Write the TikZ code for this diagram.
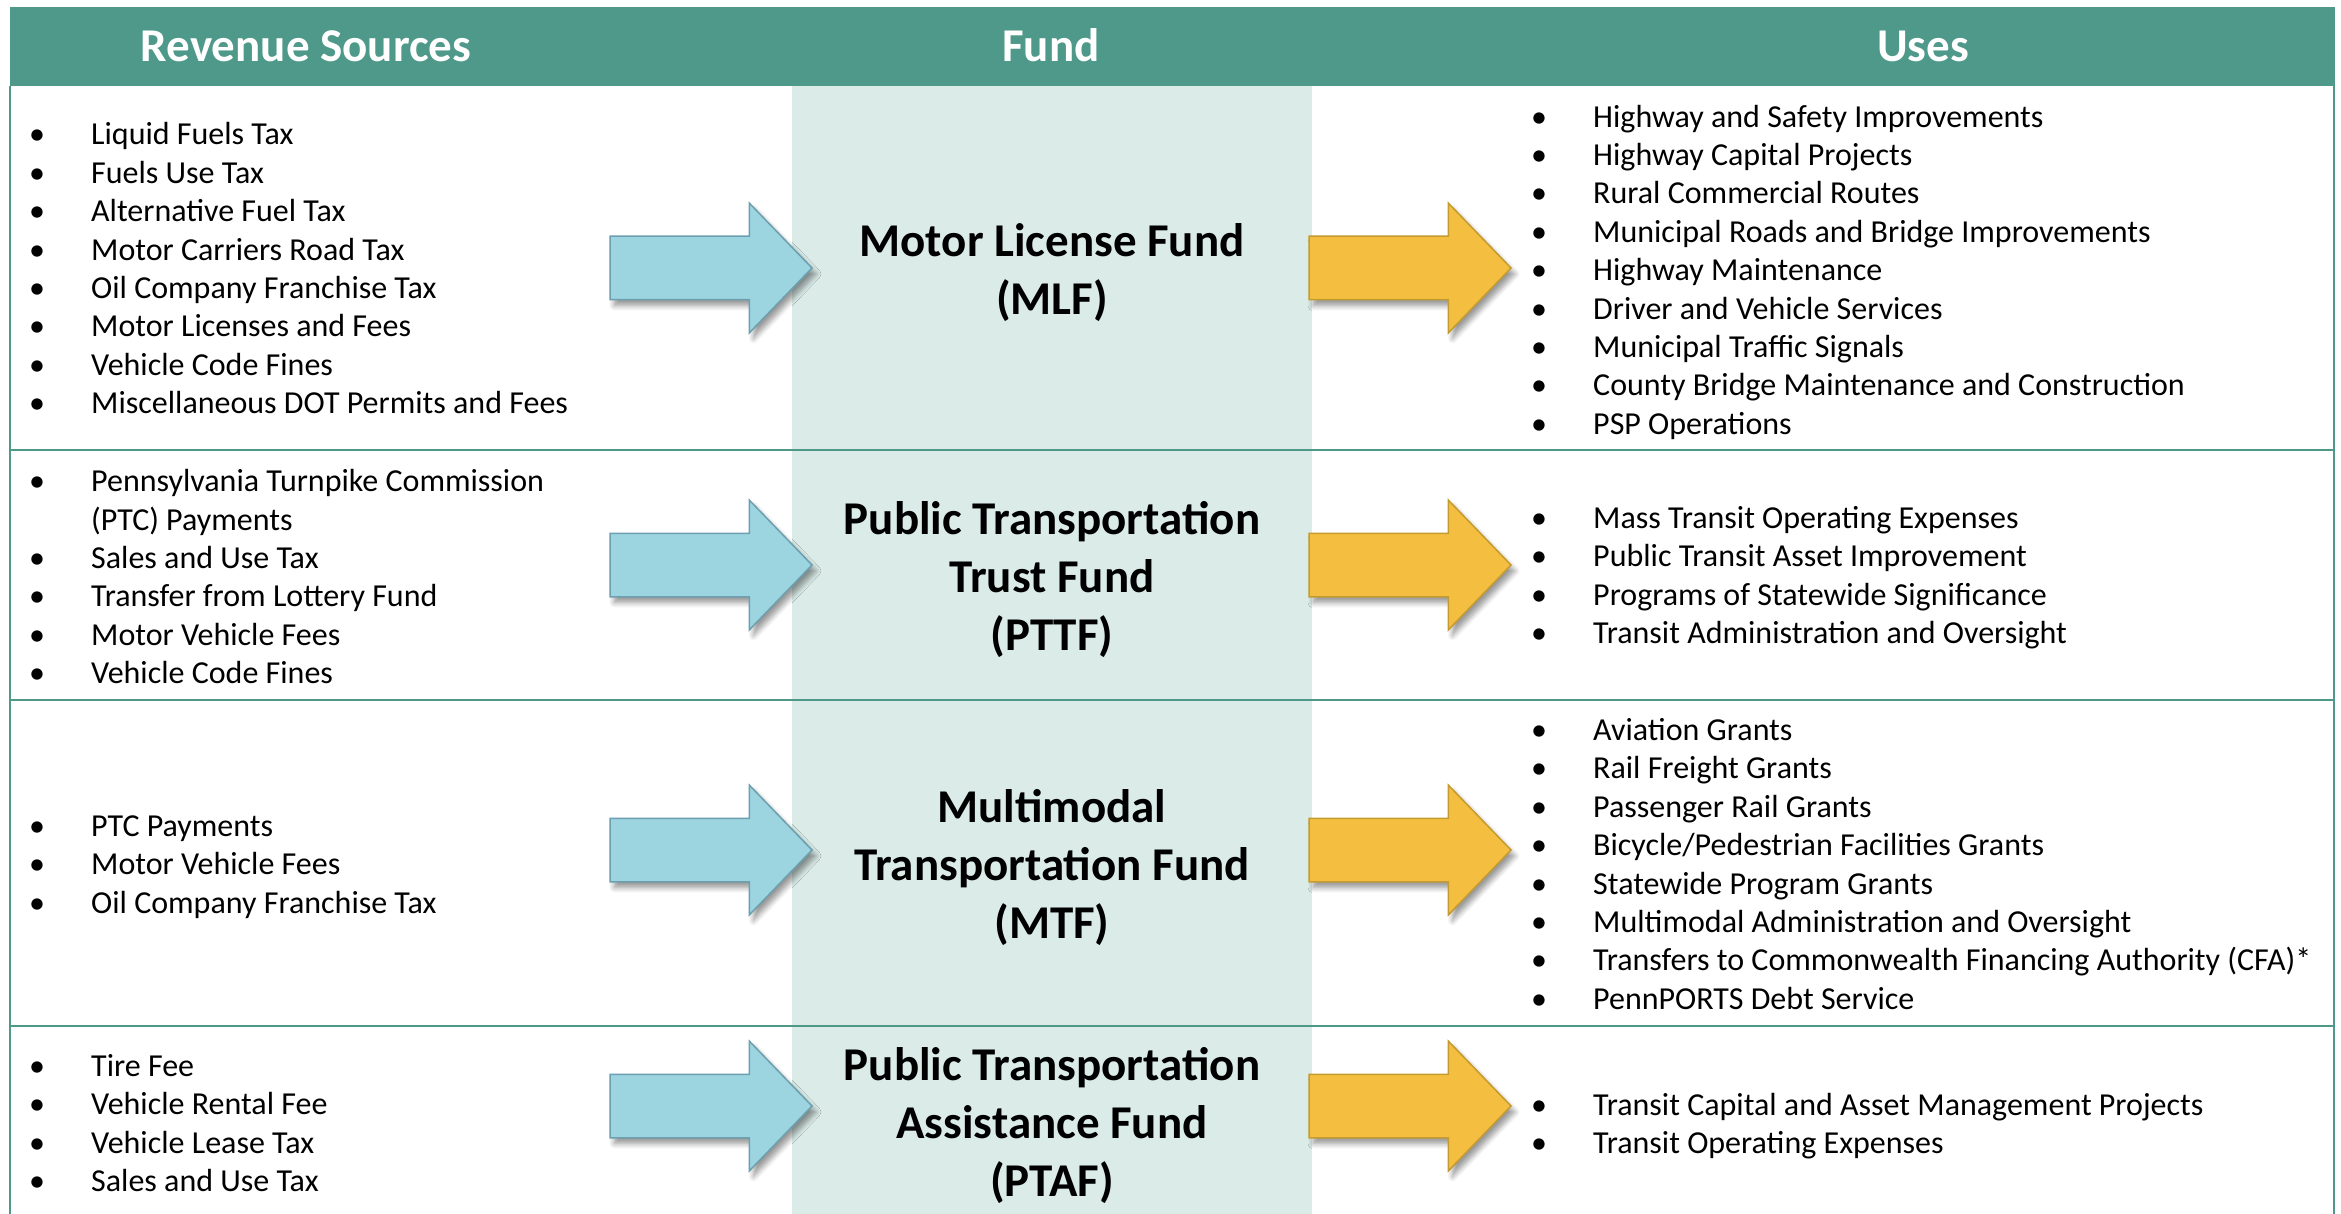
\documentclass[tikz,border=0pt]{standalone}
\usepackage{fontspec}
\setmainfont{Carlito}
\usetikzlibrary{shapes.arrows,shadows,shadows.blur}
\definecolor{hdr}{HTML}{4E998A}
\definecolor{fundbg}{HTML}{DAEBE8}
\definecolor{blfill}{HTML}{9CD4DF}
\definecolor{bldraw}{HTML}{6C9FAF}
\definecolor{orfill}{HTML}{F4BF41}
\definecolor{ordraw}{HTML}{C49B2E}
\tikzset{
  rule/.style={draw=hdr, line width=2.5pt},
  hdrtext/.style={text=white, font=\bfseries\fontsize{47}{56}\selectfont, inner sep=0pt, anchor=base},
  fundtext/.style={font=\bfseries\fontsize{47}{58}\selectfont, align=center, inner sep=0pt},
  listtext/.style={font=\fontsize{32}{38.4}\selectfont, inner sep=0pt, anchor=west},
  blockarrow/.style={single arrow, anchor=tail, minimum height=202pt, minimum width=128pt,
    single arrow head extend=33pt, single arrow tip angle=92, inner xsep=0pt, inner ysep=31pt,
    outer sep=0pt, line width=1.5pt,
    blur shadow={shadow xshift=4pt, shadow yshift=-6pt, shadow blur radius=5pt,
      shadow blur steps=6, shadow opacity=40}},
  inarrow/.style={blockarrow, fill=blfill, draw=bldraw},
  outarrow/.style={blockarrow, fill=orfill, draw=ordraw},
}
\newcommand{\bl}{\textbullet &}
\newenvironment{blist}{\begin{tabular}{@{}p{62pt}@{}l@{}}}{\end{tabular}}
\begin{document}
\begin{tikzpicture}[x=1pt,y=-1pt]
\useasboundingbox (0,0) rectangle (2341,1214);
% fund column and header band
\fill[fundbg] (792,86) rectangle (1312,1214);
\fill[hdr] (10,7) rectangle (2335,86);
% table rules
\draw[rule] (10,86) -- (10,1214);
\draw[rule] (2334,86) -- (2334,1214);
\draw[rule] (10,450) -- (2334,450);
\draw[rule] (10,700) -- (2334,700);
\draw[rule] (10,1026) -- (2334,1026);
% header texts
\node[hdrtext] (hsrc) at (306,62) {Revenue Sources};
\node[hdrtext] (hfund) at (1051,62) {Fund};
\node[hdrtext] (huse) at (1923,62) {Uses};
% fund names
\node[fundtext] (mlf) at (1052,272.2) {Motor License Fund\\(MLF)};
\node[fundtext] (pttf) at (1052,579.2) {Public Transportation\\Trust Fund\\(PTTF)};
\node[fundtext] (mtf) at (1052,867.2) {Multimodal\\Transportation Fund\\(MTF)};
\node[fundtext] (ptaf) at (1052,1126) {Public Transportation\\Assistance Fund\\(PTAF)};
% revenue sources
\node[listtext] (src1) at (29,271.7) {\begin{blist}
\bl Liquid Fuels Tax\\
\bl Fuels Use Tax\\
\bl Alternative Fuel Tax\\
\bl Motor Carriers Road Tax\\
\bl Oil Company Franchise Tax\\
\bl Motor Licenses and Fees\\
\bl Vehicle Code Fines\\
\bl Miscellaneous DOT Permits and Fees
\end{blist}};
\node[listtext] (src2) at (29,580) {\begin{blist}
\bl Pennsylvania Turnpike Commission\\
 & (PTC) Payments\\
\bl Sales and Use Tax\\
\bl Transfer from Lottery Fund\\
\bl Motor Vehicle Fees\\
\bl Vehicle Code Fines
\end{blist}};
\node[listtext] (src3) at (29,867.3) {\begin{blist}
\bl PTC Payments\\
\bl Motor Vehicle Fees\\
\bl Oil Company Franchise Tax
\end{blist}};
\node[listtext] (src4) at (29,1126.5) {\begin{blist}
\bl Tire Fee\\
\bl Vehicle Rental Fee\\
\bl Vehicle Lease Tax\\
\bl Sales and Use Tax
\end{blist}};
% uses
\node[listtext] (use1) at (1531,273) {\begin{blist}
\bl Highway and Safety Improvements\\
\bl Highway Capital Projects\\
\bl Rural Commercial Routes\\
\bl Municipal Roads and Bridge Improvements\\
\bl Highway Maintenance\\
\bl Driver and Vehicle Services\\
\bl Municipal Traffic Signals\\
\bl County Bridge Maintenance and Construction\\
\bl PSP Operations
\end{blist}};
\node[listtext] (use2) at (1531,578.5) {\begin{blist}
\bl Mass Transit Operating Expenses\\
\bl Public Transit Asset Improvement\\
\bl Programs of Statewide Significance\\
\bl Transit Administration and Oversight
\end{blist}};
\node[listtext] (use3) at (1531,867.3) {\begin{blist}
\bl Aviation Grants\\
\bl Rail Freight Grants\\
\bl Passenger Rail Grants\\
\bl Bicycle/Pedestrian Facilities Grants\\
\bl Statewide Program Grants\\
\bl Multimodal Administration and Oversight\\
\bl Transfers to Commonwealth Financing Authority (CFA)*\\
\bl PennPORTS Debt Service
\end{blist}};
\node[listtext] (use4) at (1531,1127) {\begin{blist}
\bl Transit Capital and Asset Management Projects\\
\bl Transit Operating Expenses
\end{blist}};
% block arrows
\node[inarrow] (ain1) at (610,268) {};
\node[inarrow] (ain2) at (610,565) {};
\node[inarrow] (ain3) at (610,850) {};
\node[inarrow] (ain4) at (610,1106) {};
\node[outarrow] (aout1) at (1309,268) {};
\node[outarrow] (aout2) at (1309,565) {};
\node[outarrow] (aout3) at (1309,850) {};
\node[outarrow] (aout4) at (1309,1106) {};
\end{tikzpicture}
\end{document}
